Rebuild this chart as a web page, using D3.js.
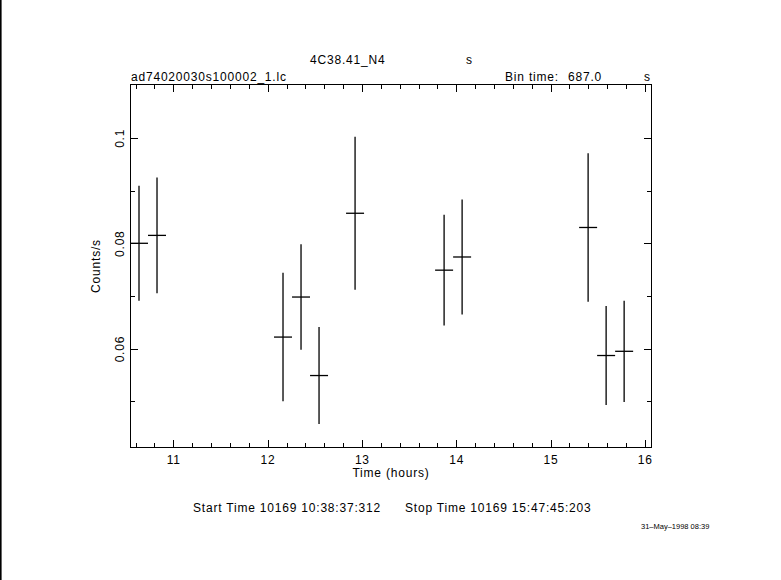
<!DOCTYPE html>
<html><head><meta charset="utf-8">
<script src="https://cdn.jsdelivr.net/npm/d3@7"></script>
<style>
html,body{margin:0;padding:0;background:#fff;}
svg{display:block;}
text{font-family:"Liberation Sans",Arial,sans-serif;fill:#000;}
text.t12{font-size:12px;letter-spacing:0.8px;}
</style></head>
<body>
<script>
// ---- data ----
const timeHours = [10.636, 10.827, 12.163, 12.354, 12.545, 12.927, 13.871, 14.062, 15.398, 15.589, 15.780];
const rate      = [0.0800, 0.0815, 0.0622, 0.0698, 0.0549, 0.0857, 0.0749, 0.0774, 0.0830, 0.0587, 0.0595];
const rateErr   = [0.0109, 0.0110, 0.0122, 0.0100, 0.0092, 0.0145, 0.0105, 0.0109, 0.0141, 0.0094, 0.0096];
const binTimeSec = 687.0;
const xMajorTicks = [11, 12, 13, 14, 15, 16];
const yMajorTicks = [0.06, 0.08, 0.1];
const yMajorLabels = ["0.06", "0.08", "0.1"];
const xDomain = [10.548, 16.068];
const yDomain = [0.04128, 0.1101];

const W = 781, H = 580;
const L = 130.7, R = 651.3, T = 84.7, B = 447.3;

const svg = d3.select("body").append("svg").attr("width", W).attr("height", H);
svg.append("rect").attr("x",0).attr("y",0).attr("width",W).attr("height",H).attr("fill","#fff");
svg.append("rect").attr("x",0).attr("y",0).attr("width",1.6).attr("height",H).attr("fill","#000");

const x = d3.scaleLinear().domain(xDomain).range([L, R]);
const y = d3.scaleLinear().domain(yDomain).range([B, T]);

const xMinor = d3.range(10.6, 16.05, 0.2).map(v => +v.toFixed(2)).filter(v => !xMajorTicks.some(m => Math.abs(m - v) < 1e-6));
const yMinor = [0.05, 0.07, 0.09];

function styleAxis(g){
  g.select(".domain").remove();
  g.selectAll("text").remove();
  g.selectAll("line").attr("stroke","#000").attr("stroke-width",1).attr("shape-rendering","crispEdges");
}
// bottom
svg.append("g").attr("transform",`translate(0,${B})`).call(d3.axisBottom(x).tickValues(xMajorTicks).tickSize(-7)).call(styleAxis);
svg.append("g").attr("transform",`translate(0,${B})`).call(d3.axisBottom(x).tickValues(xMinor).tickSize(-4)).call(styleAxis);
// top
svg.append("g").attr("transform",`translate(0,${T})`).call(d3.axisTop(x).tickValues(xMajorTicks).tickSize(-7)).call(styleAxis);
svg.append("g").attr("transform",`translate(0,${T})`).call(d3.axisTop(x).tickValues(xMinor).tickSize(-4)).call(styleAxis);
// left
svg.append("g").attr("transform",`translate(${L},0)`).call(d3.axisLeft(y).tickValues(yMajorTicks).tickSize(-7)).call(styleAxis);
svg.append("g").attr("transform",`translate(${L},0)`).call(d3.axisLeft(y).tickValues(yMinor).tickSize(-4)).call(styleAxis);
// right
svg.append("g").attr("transform",`translate(${R},0)`).call(d3.axisRight(y).tickValues(yMajorTicks).tickSize(-7)).call(styleAxis);
svg.append("g").attr("transform",`translate(${R},0)`).call(d3.axisRight(y).tickValues(yMinor).tickSize(-4)).call(styleAxis);

// frame
svg.append("rect").attr("x",L).attr("y",T).attr("width",R-L).attr("height",B-T)
  .attr("fill","none").attr("stroke","#000").attr("stroke-width",1).attr("shape-rendering","crispEdges");

// tick labels
svg.append("g").selectAll("text").data(xMajorTicks).join("text").attr("class","t12")
  .attr("x", d => x(d) + 0.4).attr("y", 463.5).attr("text-anchor","middle").text(d => d);
svg.append("g").selectAll("text").data(yMajorTicks).join("text").attr("class","t12")
  .attr("transform", (d,i) => `translate(123.5,${y(d) + 0.4}) rotate(-90)`).attr("text-anchor","middle")
  .text((d,i) => yMajorLabels[i]);

// axis titles
svg.append("text").attr("class","t12").attr("x",391).attr("y",477).attr("text-anchor","middle").text("Time (hours)");
svg.append("text").attr("class","t12").attr("transform","translate(100,266) rotate(-90)").attr("text-anchor","middle").text("Counts/s");

// header texts
svg.append("text").attr("class","t12").attr("x",310).attr("y",64).text("4C38.41_N4");
svg.append("text").attr("class","t12").attr("x",466).attr("y",64).text("s");
svg.append("text").attr("class","t12").attr("x",131).attr("y",80.5).text("ad74020030s100002_1.lc");
svg.append("text").attr("class","t12").attr("x",505).attr("y",80.5).text("Bin time:");
svg.append("text").attr("class","t12").attr("x",568).attr("y",80.5).text(binTimeSec.toFixed(1));
svg.append("text").attr("class","t12").attr("x",644).attr("y",80.5).text("s");

// footer
svg.append("text").attr("class","t12").attr("x",193).attr("y",512).text("Start Time 10169 10:38:37:312");
svg.append("text").attr("class","t12").attr("x",405).attr("y",512).text("Stop Time 10169 15:47:45:203");
svg.append("text").attr("x",641).attr("y",528.5).attr("font-size",7.5).text("31\u2013May\u20131998 08:39");

// error bars
const halfBin = binTimeSec / 3600 / 2;
const pts = timeHours.map((t,i) => ({t, r: rate[i], e: rateErr[i]}));
const gp = svg.append("g").attr("stroke","#000").attr("stroke-width",1.3);
gp.selectAll("line.v").data(pts).join("line").attr("class","v")
  .attr("x1", d => x(d.t)).attr("x2", d => x(d.t))
  .attr("y1", d => y(d.r - d.e)).attr("y2", d => y(d.r + d.e));
gp.selectAll("line.h").data(pts).join("line").attr("class","h")
  .attr("x1", d => Math.max(L, x(d.t - halfBin))).attr("x2", d => x(d.t + halfBin))
  .attr("y1", d => y(d.r)).attr("y2", d => y(d.r));
</script>
</body></html>
